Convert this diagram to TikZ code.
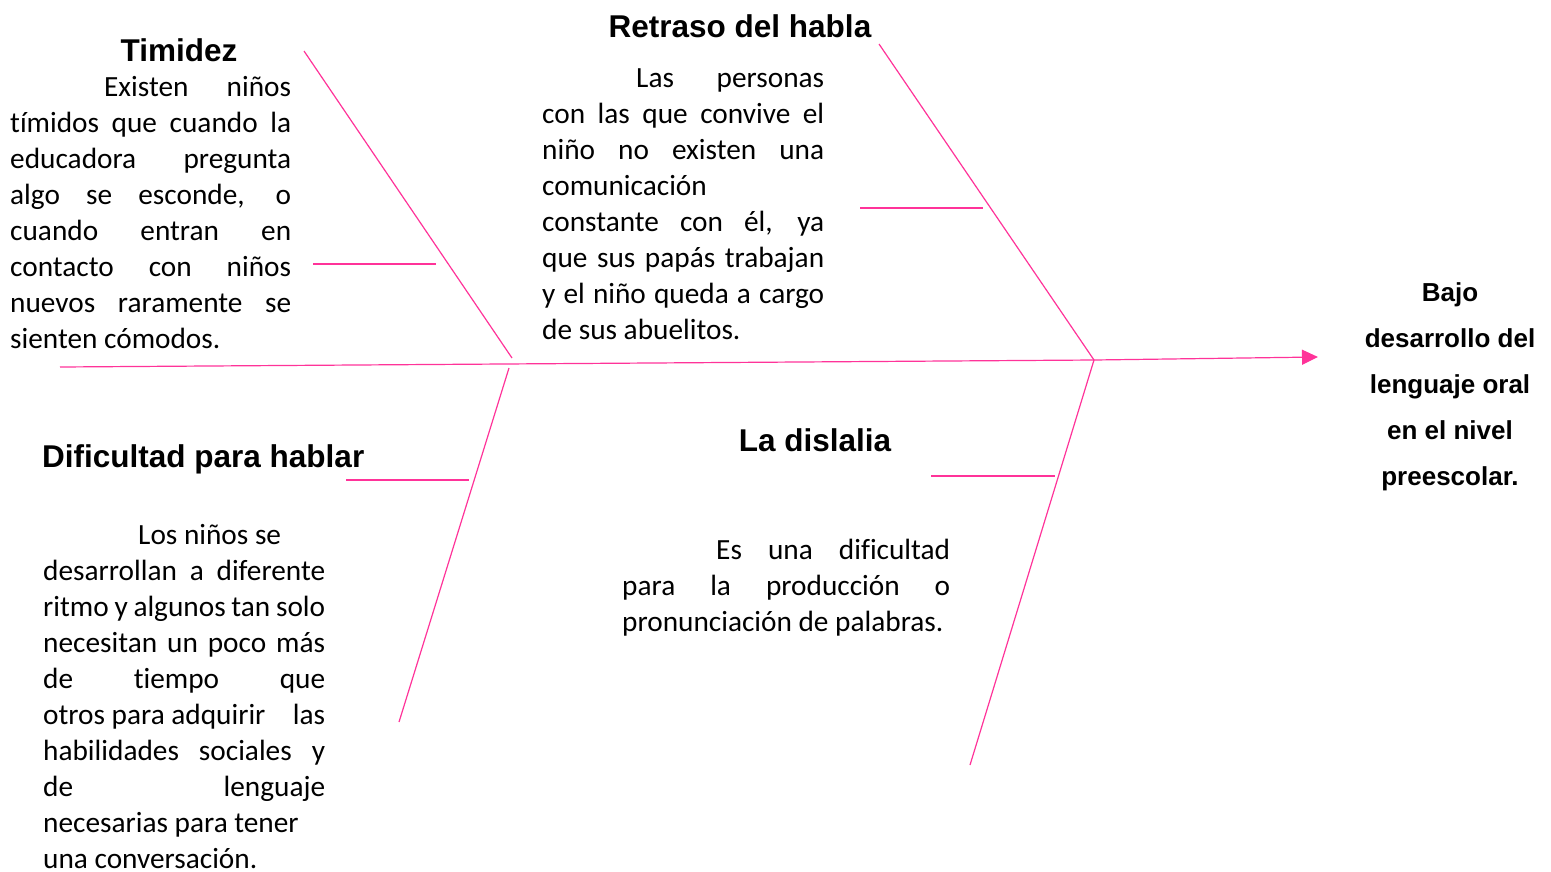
\documentclass[tikz,border=0pt]{standalone}
\usepackage{fontspec}
\setmainfont{Carlito}[Ligatures=NoCommon]
\newfontfamily\headfont{Liberation Sans}
\usetikzlibrary{arrows.meta}
\definecolor{bonepink}{RGB}{255,51,153}
\newcommand\J[2]{\makebox[#1][s]{\strut #2}}
\newcommand\Lf[1]{\strut #1}
\begin{document}
\begin{tikzpicture}[x=1pt,y=-1pt,
  bone/.style={draw=bonepink,line width=1.2pt},
  body/.style={inner sep=0pt,anchor=north west,align=left,font={\fontsize{29.3}{36}\selectfont}},
  head/.style={inner sep=0pt,anchor=base,font={\headfont\bfseries\fontsize{31.5}{36}\selectfont}},
  effect/.style={inner sep=0pt,anchor=north,align=center,font={\headfont\bfseries\fontsize{26}{46}\selectfont}}]
\useasboundingbox (0,0) rectangle (1551,871);

% spine and bones
\coordinate (tail) at (60,367);
\coordinate (joint) at (1094,360);
\coordinate (head) at (1318,357);
\coordinate (tA) at (304,51);   \coordinate (tB) at (512,358);
\coordinate (dA) at (509,368);  \coordinate (dB) at (399,722);
\coordinate (rA) at (879,44);
\coordinate (lB) at (970,765);
\coordinate (tb1) at (313,264); \coordinate (tb2) at (436,264);
\coordinate (db1) at (346,480); \coordinate (db2) at (469,480);
\coordinate (rb1) at (860,208); \coordinate (rb2) at (983,208);
\coordinate (lb1) at (931,476); \coordinate (lb2) at (1055,476);

\draw[bone] (tail) -- (joint);
\draw[bone,-{Triangle[length=16pt,width=15pt]}] (joint) -- (head);
\draw[bone] (tA) -- (tB);
\draw[bone] (dA) -- (dB);
\draw[bone] (rA) -- (joint);
\draw[bone] (joint) -- (lB);
\draw[bone] (tb1) -- (tb2);
\draw[bone] (db1) -- (db2);
\draw[bone] (rb1) -- (rb2);
\draw[bone] (lb1) -- (lb2);

% headings
\node[head] (hTim) at (179,61) {Timidez};
\node[head] (hRet) at (740,37) {Retraso del habla};
\node[head,anchor=base west] (hDif) at (42,467) {Dificultad para hablar};
\node[head] (hDis) at (815,451) {La dislalia};

% bodies
\node[body] (bTim) at (10,71.3) {%
\hspace*{94pt}\J{187pt}{Existen niños}\\
\J{281pt}{tímidos que cuando la}\\
\J{281pt}{educadora pregunta}\\
\J{281pt}{algo se esconde, o}\\
\J{281pt}{cuando entran en}\\
\J{281pt}{contacto con niños}\\
\J{281pt}{nuevos raramente se}\\
\Lf{sienten cómodos.}};

\node[body] (bRet) at (542,61.8) {%
\hspace*{94pt}\J{188pt}{Las personas}\\
\J{282pt}{con las que convive el}\\
\J{282pt}{niño no existen una}\\
\Lf{comunicación}\\
\J{282pt}{constante con él, ya}\\
\J{282pt}{que sus papás trabajan}\\
\J{282pt}{y el niño queda a cargo}\\
\Lf{de sus abuelitos.}};

\node[body] (bDif) at (43,519.3) {%
\hspace*{95pt}\Lf{Los niños se}\\
\J{282pt}{desarrollan a diferente}\\
\J{282pt}{ritmo y algunos tan solo}\\
\J{282pt}{necesitan un poco más}\\
\J{282pt}{de tiempo que}\\
\J{282pt}{otros para adquirir\hfill las}\\
\J{282pt}{habilidades sociales y}\\
\J{282pt}{de lenguaje}\\
\Lf{necesarias para tener}\\
una conversación.};

\node[body] (bDis) at (622,533.8) {%
\hspace*{94pt}\J{234pt}{Es una dificultad}\\
\J{328pt}{para la producción o}\\
\Lf{pronunciación de palabras.}};

% effect
\node[effect] (eff) at (1450,268.8) {\strut Bajo\\ \strut desarrollo del\\ \strut lenguaje oral\\ \strut en el nivel\\ \strut preescolar.};
\end{tikzpicture}
\end{document}
